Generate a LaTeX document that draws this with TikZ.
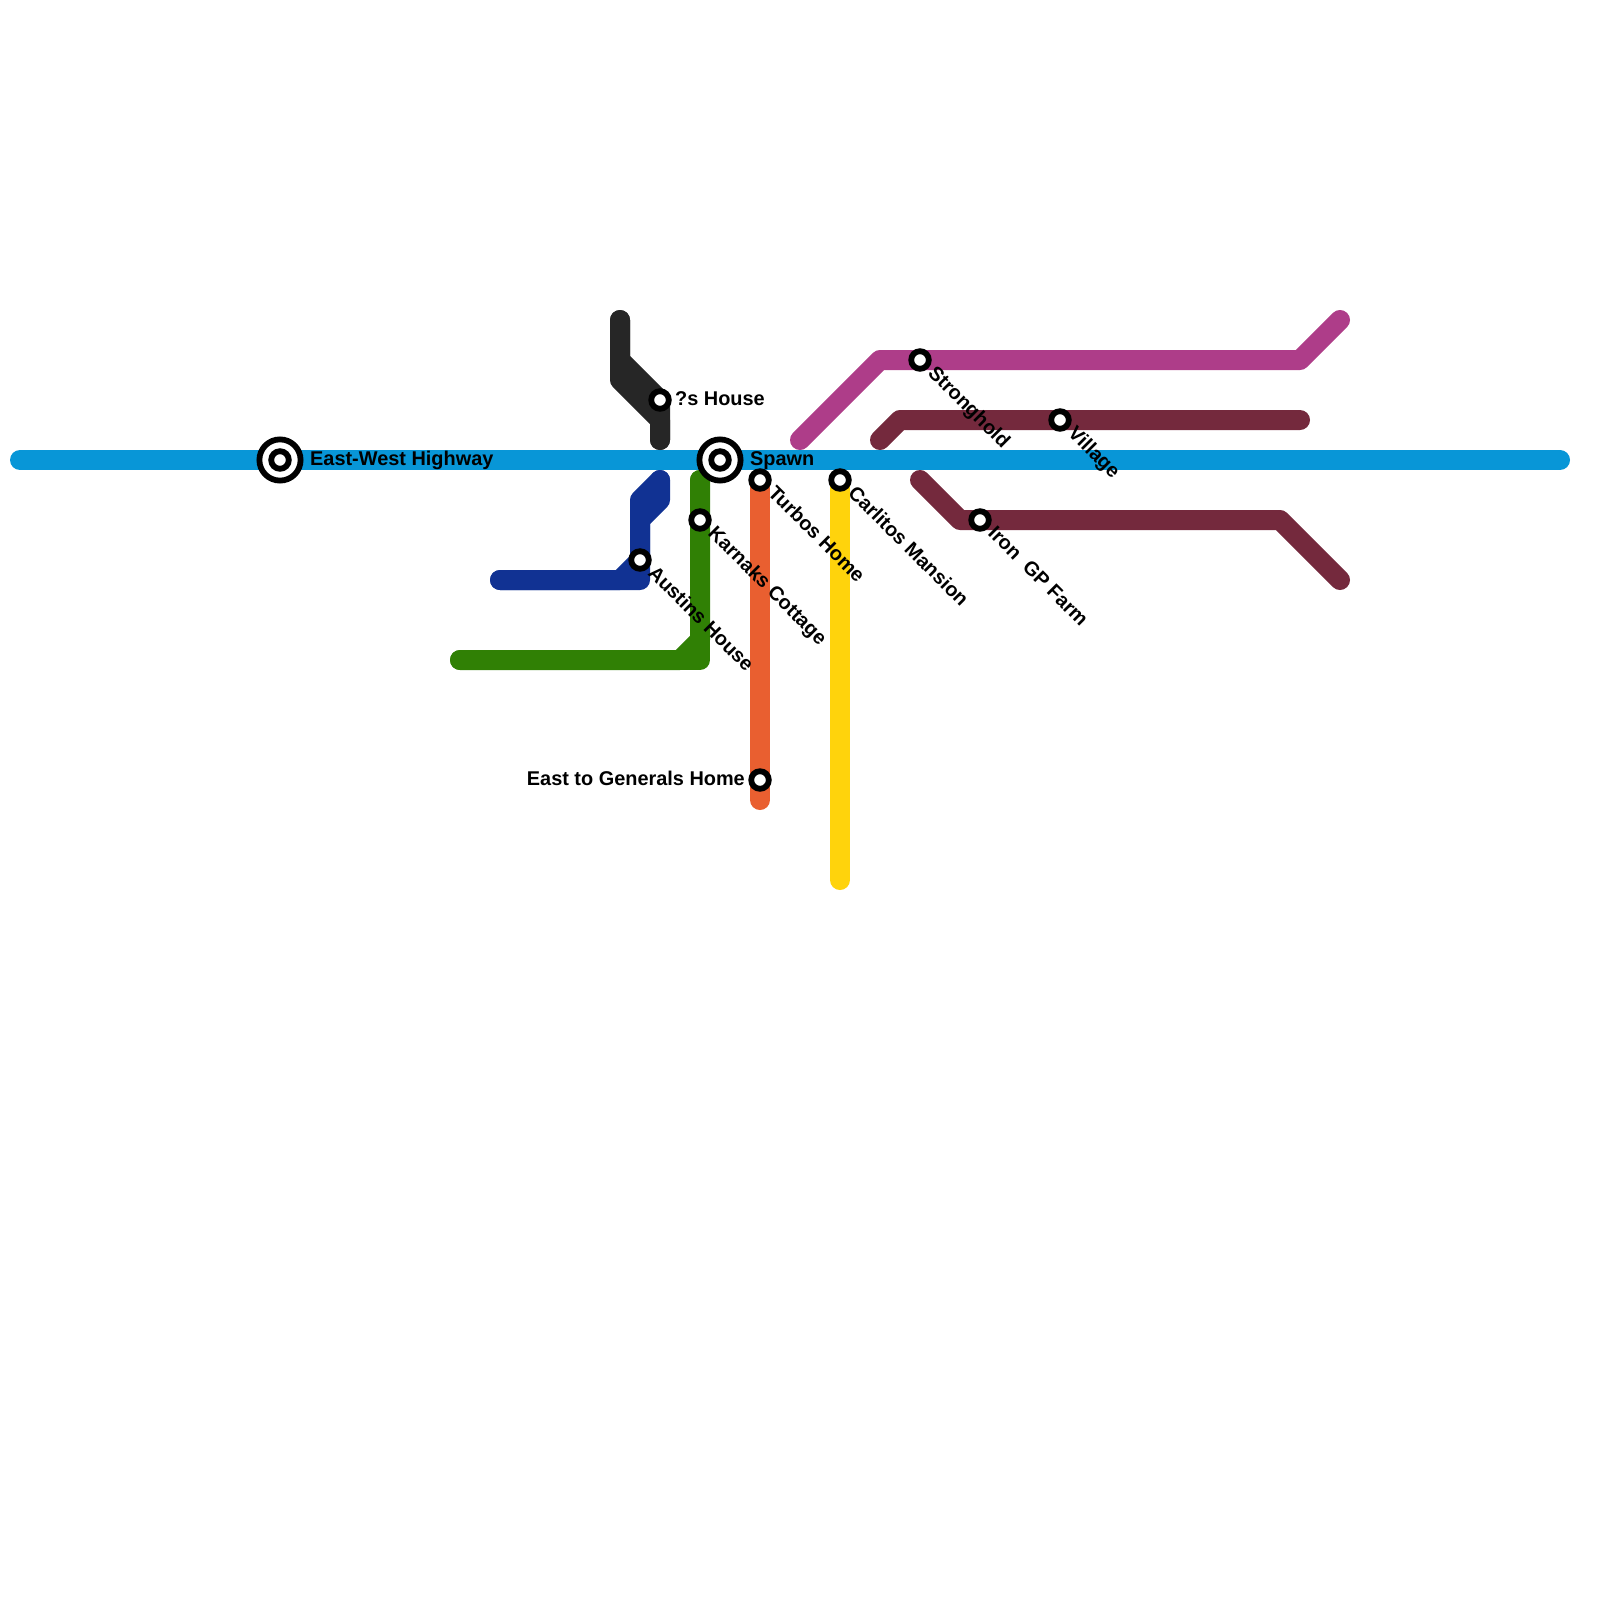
\documentclass[tikz,border=0pt]{standalone}
\usepackage{fontspec}
\usetikzlibrary{calc}
\setmainfont{Liberation Sans}
\definecolor{cblue}{HTML}{0896D7}
\definecolor{cblack}{HTML}{262626}
\definecolor{cnavy}{HTML}{113293}
\definecolor{cgreen}{HTML}{308005}
\definecolor{corange}{HTML}{E95F30}
\definecolor{cyellow}{HTML}{FFD30C}
\definecolor{cmagenta}{HTML}{AE3D89}
\definecolor{cmaroon}{HTML}{74293D}
\tikzset{
  metro/.style={line width=20pt,line cap=round,line join=round},
  smallstn/.style={circle,draw=black,fill=white,line width=5.8pt,minimum size=17.6pt,inner sep=0pt},
  bigstn/.style={circle,draw=black,fill=white,line width=5.8pt,minimum size=41.2pt,inner sep=0pt},
  lab/.style={font=\bfseries\fontsize{19.9}{24}\selectfont,text=black,inner sep=0pt,anchor=base west},
  diaglab/.style={lab,rotate=-45}
}
\begin{document}
\begin{tikzpicture}[x=1pt,y=-1pt]
\useasboundingbox (0,0) rectangle (1600,1600);
\coordinate (w) at (20,460); \coordinate (e) at (1560,460);
\coordinate (k1) at (620,320); \coordinate (k2) at (620,360); \coordinate (k3) at (620,380);
\coordinate (k4) at (660,400); \coordinate (k5) at (660,420); \coordinate (k6) at (660,440);
\coordinate (n1) at (660,480); \coordinate (n2) at (640,500); \coordinate (n3) at (660,500);
\coordinate (n4) at (640,520); \coordinate (n5) at (640,560); \coordinate (n6) at (620,580);
\coordinate (n7) at (640,580); \coordinate (n8) at (500,580);
\coordinate (g1) at (700,480); \coordinate (g2) at (700,640); \coordinate (g3) at (680,660);
\coordinate (g4) at (700,660); \coordinate (g5) at (460,660);
\coordinate (o1) at (760,480); \coordinate (o2) at (760,800);
\coordinate (y1) at (840,480); \coordinate (y2) at (840,880);
\coordinate (m1) at (800,440); \coordinate (m2) at (880,360); \coordinate (m3) at (1300,360); \coordinate (m4) at (1340,320);
\coordinate (r1) at (880,440); \coordinate (r2) at (900,420); \coordinate (r3) at (1300,420);
\coordinate (s1) at (920,480); \coordinate (s2) at (960,520); \coordinate (s3) at (1280,520); \coordinate (s4) at (1340,580);
% lines
\draw[metro,cblue] (w) -- (e);
\draw[metro,cblack] (k1) -- (k2) -- (k4) -- (k6);
\draw[metro,cblack] (k1) -- (k3) -- (k5) -- (k6);
\fill[cblack] (k2) -- (k4) -- (k5) -- (k3) -- cycle;
\draw[metro,cnavy] (n1) -- (n2) -- (n5) -- (n6) -- (n8);
\draw[metro,cnavy] (n1) -- (n3) -- (n4) -- (n7) -- (n8);
\fill[cnavy] (n1) -- (n2) -- (n4) -- (n3) -- cycle;
\draw[metro,cgreen] (g1) -- (g2) -- (g3) -- (g5);
\draw[metro,cgreen] (g1) -- (g4) -- (g5);
\draw[metro,corange] (o1) -- (o2);
\draw[metro,cyellow] (y1) -- (y2);
\draw[metro,cmagenta] (m1) -- (m2) -- (m3) -- (m4);
\draw[metro,cmaroon] (r1) -- (r2) -- (r3);
\draw[metro,cmaroon] (s1) -- (s2) -- (s3) -- (s4);
% stations
\node[bigstn] (bw) at (280,460) {};
\node[smallstn] (bwi) at (280,460) {};
\node[bigstn] (bs) at (720,460) {};
\node[smallstn] (bsi) at (720,460) {};
\node[smallstn] (house) at (660,400) {};
\node[smallstn] (austin) at (640,560) {};
\node[smallstn] (karnak) at (700,520) {};
\node[smallstn] (turbo) at (760,480) {};
\node[smallstn] (general) at (760,780) {};
\node[smallstn] (carlito) at (840,480) {};
\node[smallstn] (strong) at (920,360) {};
\node[smallstn] (iron) at (980,520) {};
\node[smallstn] (village) at (1060,420) {};
% labels
\node[lab] (lw) at (310,465) {East-West Highway};
\node[lab] (ls) at (750,465) {Spawn};
\node[lab] (lh) at (675,405) {?s House};
\node[lab,anchor=base east] (lg) at (745,785) {East to Generals Home};
\node[diaglab] (la) at ($(austin)+(7,14)$) {Austins House};
\node[diaglab] (lk) at ($(karnak)+(7,14)$) {Karnaks Cottage};
\node[diaglab] (lt) at ($(turbo)+(7,14)$) {Turbos Home};
\node[diaglab] (lc) at ($(carlito)+(7,14)$) {Carlitos Mansion};
\node[diaglab] (lst) at ($(strong)+(7,14)$) {Stronghold};
\node[diaglab] (li) at ($(iron)+(7,14)$) {Iron\ \ GP Farm};
\node[diaglab] (lv) at ($(village)+(7,14)$) {Village};
\end{tikzpicture}
\end{document}
